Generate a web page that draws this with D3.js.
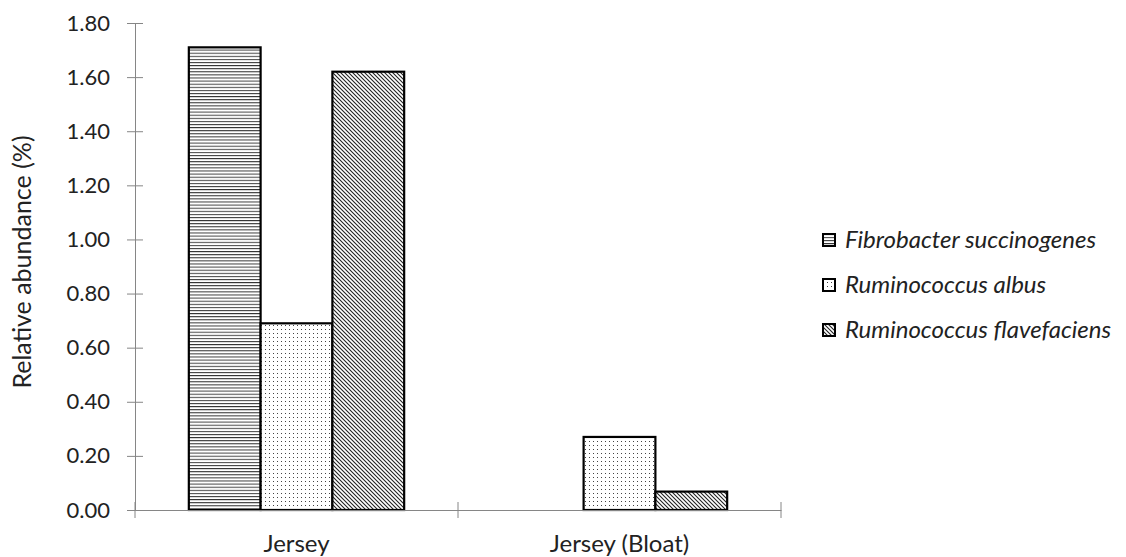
<!DOCTYPE html>
<html><head><meta charset="utf-8">
<script src="https://cdn.jsdelivr.net/npm/d3@7"></script>
<style>
html,body{margin:0;padding:0;background:#fff;}
text{font-family:Lato,"Open Sans",sans-serif;}
</style></head>
<body>
<svg id="chart" width="1126" height="557"></svg>
<script>
const categories = ["Jersey", "Jersey (Bloat)"];
const seriesNames = ["Fibrobacter succinogenes", "Ruminococcus albus", "Ruminococcus flavefaciens"];
const fibrobacter = [1.71, 0.0];
const albus = [0.69, 0.27];
const flavefaciens = [1.62, 0.068];
const yTicks = [0, 0.2, 0.4, 0.6, 0.8, 1.0, 1.2, 1.4, 1.6, 1.8];
const patternIds = ["pHoriz", "pDots", "pDiag"];

(function(){
const series = [fibrobacter, albus, flavefaciens];
const svg = d3.select("#chart");
const defs = svg.append("defs");

// horizontal lines
const p1 = defs.append("pattern").attr("id","pHoriz").attr("patternUnits","userSpaceOnUse").attr("width",6).attr("height",3.1);
p1.append("rect").attr("width",6).attr("height",3.1).attr("fill","#fff");
p1.append("rect").attr("y",0).attr("width",6).attr("height",1).attr("fill","#333");
// dots
const p2 = defs.append("pattern").attr("id","pDots").attr("patternUnits","userSpaceOnUse").attr("width",4).attr("height",4);
p2.append("rect").attr("width",4).attr("height",4).attr("fill","#fff");
p2.append("rect").attr("x",1).attr("y",1).attr("width",1).attr("height",1).attr("fill","#444");
// diagonal (top-left to bottom-right)
const p3 = defs.append("pattern").attr("id","pDiag").attr("patternUnits","userSpaceOnUse").attr("width",4).attr("height",4);
p3.append("rect").attr("width",4).attr("height",4).attr("fill","#fff");
p3.append("path").attr("d","M-1,-1 L5,5 M-1,3 L1,5 M3,-1 L5,1").attr("stroke","#222").attr("stroke-width",1.1);

const mLeft = 135, mRight = 781, mTop = 23, mBottom = 510;

const x0 = d3.scaleBand().domain(categories).range([mLeft, mRight]).paddingInner(0).paddingOuter(0);
const x1 = d3.scaleBand().domain(d3.range(seriesNames.length)).range([0, x0.bandwidth()]).paddingOuter(0.75).paddingInner(0);
const y = d3.scaleLinear().domain([0, 1.8]).range([mBottom, mTop]);

// y axis
const yAxis = d3.axisLeft(y).tickValues(yTicks).tickFormat(d3.format(".2f")).tickSizeInner(8).tickSizeOuter(0).tickPadding(17);
const gy = svg.append("g").attr("transform",`translate(${mLeft},0)`).call(yAxis);
gy.select(".domain").attr("stroke","#868686");
gy.selectAll(".tick line").attr("stroke","#868686").attr("x2",8).attr("x1",-8);
gy.selectAll(".tick text").attr("font-size",22).attr("fill","#222").attr("font-family","Lato, 'Open Sans', sans-serif");

// bars
categories.forEach((c, ci) => {
  series.forEach((vals, si) => {
    svg.append("rect")
      .attr("x", x0(c) + x1(si))
      .attr("y", y(vals[ci]))
      .attr("width", x1.bandwidth())
      .attr("height", mBottom - y(vals[ci]))
      .attr("fill", `url(#${patternIds[si]})`)
      .attr("stroke", "#000").attr("stroke-width", 2.2);
  });
});

// x axis
const xAxis = d3.axisBottom(x0).tickSize(0).tickPadding(25);
const gx = svg.append("g").attr("transform",`translate(0,${mBottom})`).call(xAxis);
gx.select(".domain").attr("stroke","#868686");
gx.selectAll(".tick text").attr("font-size",24).attr("fill","#222").attr("font-family","Lato, 'Open Sans', sans-serif");
// boundary ticks
const bounds = [mLeft].concat(categories.map(c => x0(c) + x0.bandwidth()));
svg.append("g").selectAll("line").data(bounds).join("line")
  .attr("x1", d => d).attr("x2", d => d).attr("y1", mBottom - 8).attr("y2", mBottom + 8)
  .attr("stroke","#868686");

// y title
svg.append("text").attr("transform",`translate(31,262) rotate(-90)`)
  .attr("text-anchor","middle").attr("font-size",25).attr("fill","#222")
  .text("Relative abundance (%)");

// legend
const lg = svg.append("g").attr("transform","translate(822,240)");
seriesNames.forEach((n, i) => {
  const g = lg.append("g").attr("transform",`translate(0,${i*45})`);
  g.append("rect").attr("x",1).attr("y",-6).attr("width",12).attr("height",12)
    .attr("fill",`url(#${patternIds[i]})`).attr("stroke","#000").attr("stroke-width",2);
  g.append("text").attr("x",23).attr("y",8).attr("font-size",24).attr("font-style","italic")
    .attr("fill","#222").text(n);
});
})();
</script>
</body></html>
